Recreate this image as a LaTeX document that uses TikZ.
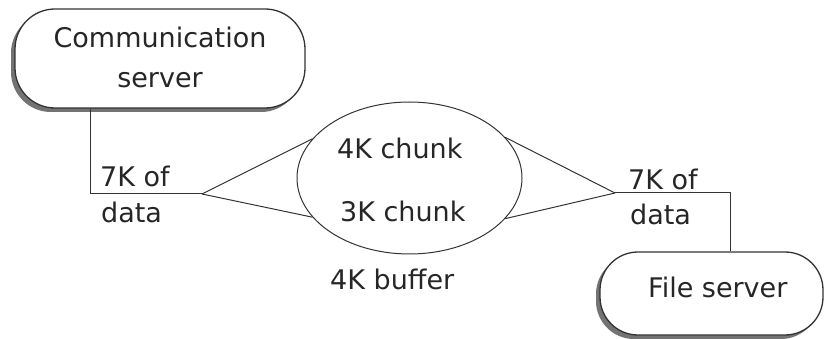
\documentclass[tikz,border=0pt]{standalone}
\usepackage{fontspec}
\setmainfont{DejaVu Sans}
\usetikzlibrary{shapes.geometric,shadows}
\begin{document}
\begin{tikzpicture}[x=1pt,y=-1pt,
  txt/.style={font=\fontsize{27}{40}\selectfont, inner sep=0pt, anchor=base west, text=black!85},
  serverbox/.style={draw=black!80, line width=1.3pt, fill=white, rounded corners=40pt,
    drop shadow={shadow xshift=-4pt, shadow yshift=-4pt, fill=black!55, opacity=1}},
  wire/.style={draw=black!80, line width=1pt}]
\useasboundingbox (0,0) rectangle (825,339);
% boxes
\node[serverbox, minimum width=290pt, minimum height=99pt, inner sep=0pt] (comm) at (160,58.5) {};
\node[serverbox, minimum width=223pt, minimum height=83pt, inner sep=0pt, rounded corners=38pt] (file) at (711.5,293.5) {};
\node[ellipse, draw=black!80, line width=1pt, minimum width=225pt, minimum height=152pt, inner sep=0pt] (buf) at (409.5,178) {};
% texts
\node[txt, anchor=base] (t1) at (160,48) {Communication};
\node[txt, anchor=base] (t2) at (160,88) {server};
\node[txt] (l1) at (100,187) {7K of};
\node[txt] (l2) at (101,223) {data};
\node[txt] (c1) at (337,159) {4K chunk};
\node[txt] (c2) at (340,222) {3K chunk};
\node[txt] (c3) at (330,290) {4K buffer};
\node[txt] (r1) at (628,190) {7K of};
\node[txt] (r2) at (630,225) {data};
\node[txt] (f1) at (648,298) {File server};
% connectors
\coordinate (lc) at (90,194);
\coordinate (la) at (202,194);
\coordinate (ra) at (615,193);
\coordinate (rc) at (730,193);
\draw[wire] (comm.south -| lc) -- (lc) -- (la);
\draw[wire] (la) -- (buf.158);
\draw[wire] (la) -- (buf.202);
\draw[wire] (buf.23) -- (ra);
\draw[wire] (buf.-23) -- (ra);
\draw[wire] (ra) -- (rc) -- (file.north -| rc);
\end{tikzpicture}
\end{document}
